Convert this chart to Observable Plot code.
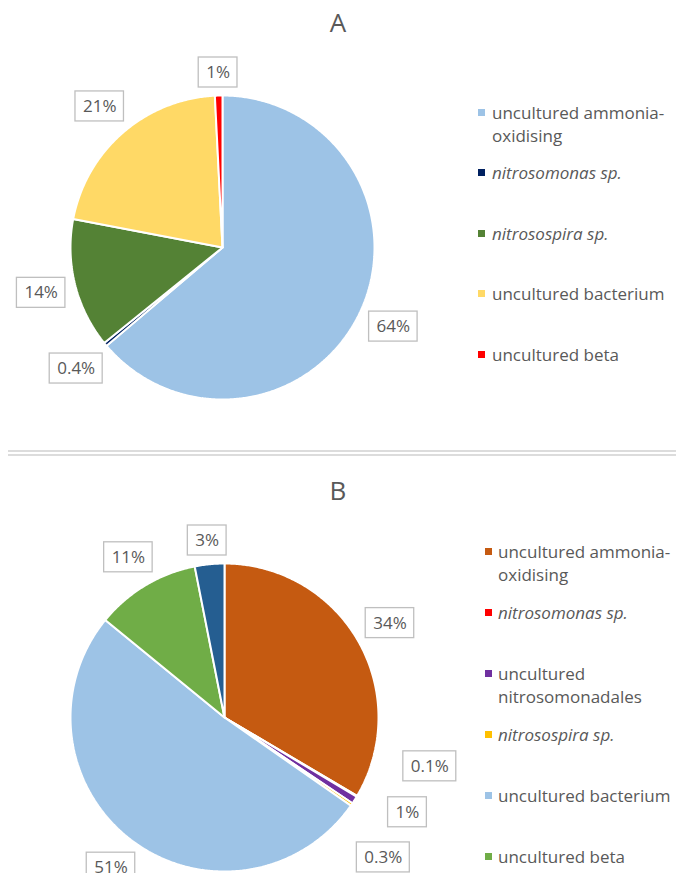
<!DOCTYPE html>
<html>
<head>
<meta charset="utf-8">
<script src="https://cdn.jsdelivr.net/npm/d3@7"></script>
<script src="https://cdn.jsdelivr.net/npm/@observablehq/plot@0.6"></script>
<style>
  html, body { margin: 0; padding: 0; background: #fff; }
  #page { position: relative; width: 676px; height: 873px; overflow: hidden; font-family: "Open Sans", sans-serif; color: #595959; }
  .title { position: absolute; left: 0; width: 676px; text-align: center; font-size: 26px; line-height: 26px; }
  .chart { position: absolute; left: 0; }
  .chart svg { overflow: visible; }
  .sep { position: absolute; left: 8px; right: 0; height: 2px; background: #DCDCDC; }
  .lg { position: absolute; font-size: 17px; line-height: 23.5px; white-space: nowrap; }
  .sw { position: absolute; width: 7px; height: 7px; }
</style>
</head>
<body>
<div id="page">
  <div class="title" style="top:9px">A</div>
  <div class="chart" id="pieA" style="top:40px"></div>
  <div class="sep" style="top:450px"></div>
  <div class="sep" style="top:454px"></div>
  <div class="title" style="top:477px">B</div>
  <div class="chart" id="pieB" style="top:505px"></div>
</div>
<script>
// ---------- data ----------
const categoriesA = ["uncultured ammonia-oxidising", "nitrosomonas sp.", "nitrosospira sp.", "uncultured bacterium", "uncultured beta"];
const valuesA = [63.8, 0.4, 13.8, 21.2, 0.8];
const labelsA = ["64%", "0.4%", "14%", "21%", "1%"];
const colorsA = ["#9DC3E6", "#002060", "#548235", "#FFD966", "#FF0000"];

const categoriesB = ["uncultured ammonia-oxidising", "nitrosomonas sp.", "uncultured nitrosomonadales", "nitrosospira sp.", "uncultured bacterium", "uncultured beta", "other"];
const valuesB = [33.5, 0.1, 0.8, 0.3, 51.2, 11.0, 3.1];
const labelsB = ["34%", "0.1%", "1%", "0.3%", "51%", "11%", "3%"];
const colorsB = ["#C55A11", "#FF0000", "#7030A0", "#FFC000", "#9DC3E6", "#70AD47", "#255E91"];

// ---------- layout ----------
const W = 676;
const LABEL_FS = 17, PADX = 7.5, BOX_H = 30, GAP = 8, CLUSTER_GAP = 20, SPREAD = 14 * Math.PI / 180;
const FONT = '"Open Sans", sans-serif';
const ctx = document.createElement("canvas").getContext("2d");

function clamp(v, lo, hi) { return Math.min(Math.max(v, lo), hi); }

function placeBox(b, ang, r, gap) {
  const ux = Math.sin(ang), uy = -Math.cos(ang);
  let lo = 0, hi = 3 * r;
  for (let k = 0; k < 60; k++) {
    const t = (lo + hi) / 2;
    const px = ux * t, py = uy * t;
    const nx = clamp(0, px - b.w / 2, px + b.w / 2);
    const ny = clamp(0, py - b.h / 2, py + b.h / 2);
    if (Math.hypot(nx, ny) < r + gap) lo = t; else hi = t;
  }
  const t = (lo + hi) / 2;
  b.sx = ux * t; b.sy = uy * t;
}
function overlap(a, b, pad) {
  return Math.abs(a.sx - b.sx) < (a.w + b.w) / 2 + pad && Math.abs(a.sy - b.sy) < (a.h + b.h) / 2 + pad;
}

function drawPie({cats, vals, labels, colors, cx, cy, r, H}) {
  const arcs = d3.pie().sort(null).value(d => d)(vals);
  const pts = [];
  arcs.forEach((a, i) => {
    const cat = cats[i];
    pts.push({cat, x: 0, y: 0});
    const n = Math.max(2, Math.ceil((a.endAngle - a.startAngle) / (Math.PI / 360)));
    for (let k = 0; k <= n; k++) {
      const t = a.startAngle + (a.endAngle - a.startAngle) * k / n;
      pts.push({cat, x: r * Math.sin(t), y: r * Math.cos(t)});
    }
    pts.push({cat, x: 0, y: 0});
  });

  ctx.font = `${LABEL_FS}px ${FONT}`;
  const boxes = arcs.map((a, i) => ({
    label: labels[i],
    w: ctx.measureText(labels[i]).width + 2 * PADX,
    h: BOX_H,
    mid: (a.startAngle + a.endAngle) / 2
  }));
  boxes.forEach(b => placeBox(b, b.mid, r, GAP));
  const sorted = boxes.slice().sort((a, b) => a.mid - b.mid);
  const groups = [];
  sorted.forEach(b => {
    const g = groups[groups.length - 1];
    if (g && overlap(g[g.length - 1], b, 4)) g.push(b); else groups.push([b]);
  });
  groups.filter(g => g.length > 1).forEach(g => {
    const n = g.length;
    const last = g[n - 1].mid + SPREAD / 2;
    g.forEach((b, k) => placeBox(b, last - (n - 1 - k) * SPREAD, r, GAP + CLUSTER_GAP));
  });
  boxes.forEach(b => { b.x = b.sx; b.y = -b.sy; });

  return Plot.plot({
    width: W, height: H, margin: 0,
    x: {domain: [-cx, W - cx], range: [0, W], axis: null},
    y: {domain: [cy - H, cy], range: [H, 0], axis: null},
    color: {domain: cats, range: colors},
    style: {fontFamily: FONT, background: "transparent", overflow: "visible"},
    marks: [
      Plot.line(pts, {x: "x", y: "y", z: "cat", fill: "cat", stroke: "white", strokeWidth: 2, strokeLinejoin: "miter"}),
      Plot.rect(boxes, {x1: d => d.x - d.w / 2, x2: d => d.x + d.w / 2, y1: d => d.y - d.h / 2, y2: d => d.y + d.h / 2,
        fill: "white", stroke: "#BFBFBF", strokeWidth: 1.3}),
      Plot.text(boxes, {x: "x", y: "y", text: "label", fontSize: LABEL_FS, fill: "#595959"})
    ]
  });
}

function wrapText(name, maxW) {
  ctx.font = `17px ${FONT}`;
  const tokens = name.split(/(?<=[- ])/);
  const lines = [];
  let cur = "";
  tokens.forEach(t => {
    if (cur && ctx.measureText((cur + t).trimEnd()).width > maxW) { lines.push(cur.trimEnd()); cur = t; }
    else cur += t;
  });
  if (cur) lines.push(cur.trimEnd());
  return lines;
}

function legend({cats, colors, swX, textX, firstTop, pitch, maxW}) {
  const page = document.getElementById("page");
  cats.forEach((c, i) => {
    const top = firstTop + i * pitch;
    const sw = document.createElement("div");
    sw.className = "sw";
    sw.style.left = swX + "px";
    sw.style.top = (top + 8) + "px";
    sw.style.background = colors[i];
    page.appendChild(sw);
    const t = document.createElement("div");
    t.className = "lg";
    t.style.left = textX + "px";
    t.style.top = top + "px";
    if (/ sp\.$/.test(c)) t.style.fontStyle = "italic";
    t.innerHTML = wrapText(c, maxW).join("<br>");
    page.appendChild(t);
  });
}

document.getElementById("pieA").appendChild(drawPie({
  cats: categoriesA, vals: valuesA, labels: labelsA, colors: colorsA, cx: 222, cy: 207, r: 152, H: 380
}));
document.getElementById("pieB").appendChild(drawPie({
  cats: categoriesB, vals: valuesB, labels: labelsB, colors: colorsB, cx: 224, cy: 212, r: 154, H: 368
}));

legend({cats: categoriesA, colors: colorsA, swX: 478, textX: 492, firstTop: 100.5, pitch: 60.5, maxW: 182});
legend({cats: categoriesB, colors: colorsB, swX: 485, textX: 498, firstTop: 539.5, pitch: 61, maxW: 178});
</script>
</body>
</html>
